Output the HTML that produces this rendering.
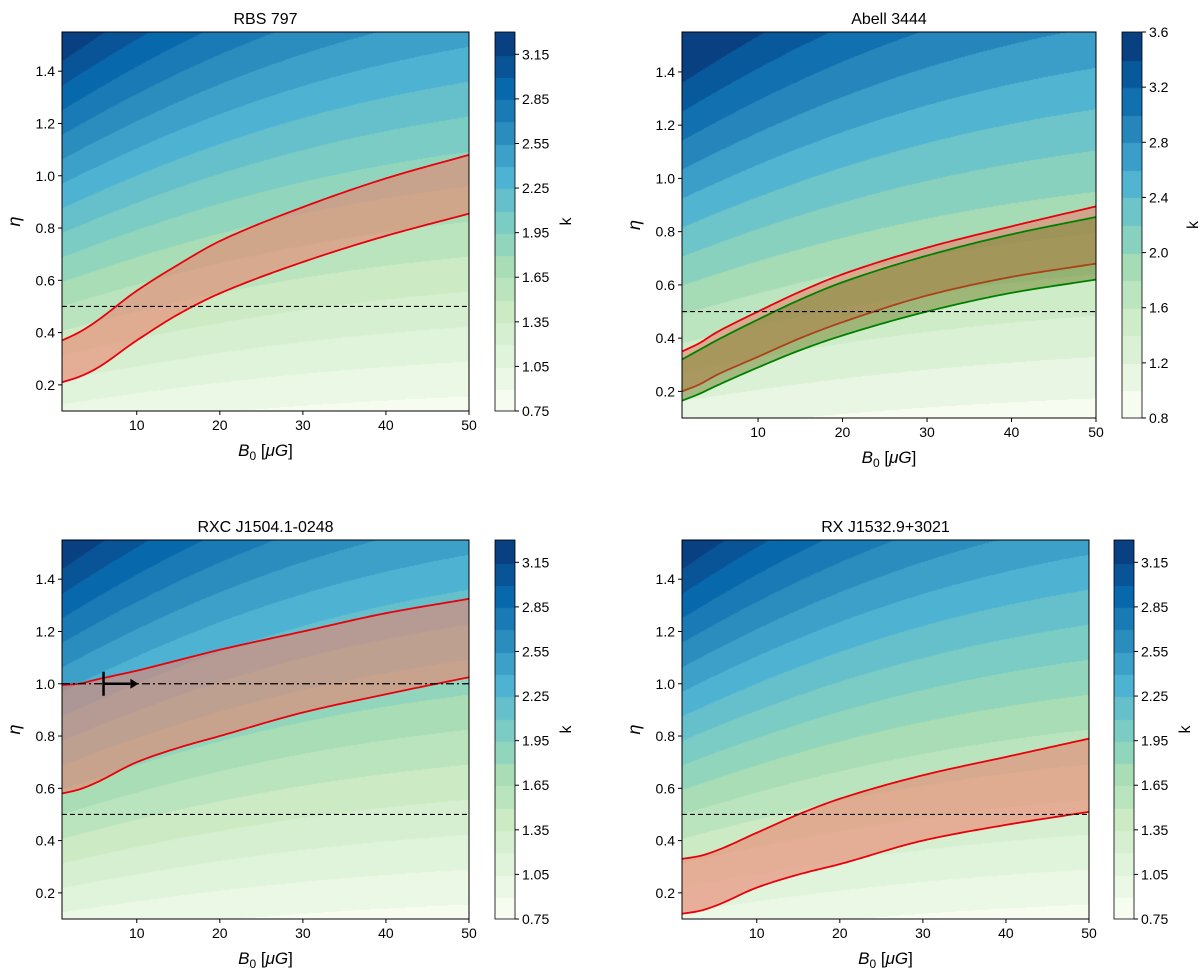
<!DOCTYPE html>
<html><head><meta charset="utf-8"><style>
body{margin:0;background:#fff;width:1200px;height:979px;position:relative;overflow:hidden;font-family:"Liberation Sans",sans-serif}
canvas{position:absolute}
svg{position:absolute;left:0;top:0}
text{font-family:"Liberation Sans","DejaVu Sans",sans-serif;fill:#000}
</style></head><body>
<svg id="s" width="1200" height="979"></svg>
<script>
const bGrid=[1,3,5,10,15,20,30,40,50];
const p1Upper=[0.37,0.40,0.44,0.56,0.66,0.75,0.88,0.99,1.08];
const p1Lower=[0.21,0.23,0.26,0.37,0.47,0.55,0.67,0.77,0.855];
const p2RedUpper=[0.35,0.38,0.42,0.50,0.575,0.64,0.74,0.82,0.895];
const p2RedLower=[0.20,0.225,0.26,0.33,0.40,0.46,0.56,0.63,0.68];
const p2GreenUpper=[0.32,0.355,0.39,0.47,0.545,0.61,0.71,0.79,0.855];
const p2GreenLower=[0.165,0.19,0.22,0.29,0.355,0.41,0.50,0.57,0.62];
const p3Upper=[0.995,1.0,1.015,1.05,1.09,1.13,1.2,1.27,1.325];
const p3Lower=[0.58,0.595,0.62,0.70,0.755,0.80,0.89,0.96,1.025];
const p4Upper=[0.33,0.34,0.36,0.43,0.50,0.56,0.65,0.72,0.79];
const p4Lower=[0.12,0.13,0.15,0.22,0.27,0.31,0.40,0.46,0.51];
const titles=["RBS 797","Abell 3444","RXC J1504.1-0248","RX J1532.9+3021"];
const cbTicksA=[0.75,1.05,1.35,1.65,1.95,2.25,2.55,2.85,3.15];
const cbTicksB=[0.8,1.2,1.6,2.0,2.4,2.8,3.2,3.6];
const xTicks=[10,20,30,40,50];
const yTicks=[0.2,0.4,0.6,0.8,1.0,1.2,1.4];

const gnbu=[[247,252,240],[224,243,219],[204,235,197],[168,221,181],[123,204,196],[78,179,211],[43,140,190],[8,104,172],[8,64,129]];
function cmap(t){t=Math.max(0,Math.min(1,t));const f=t*8,i=Math.min(7,Math.floor(f)),r=f-i;return gnbu[i].map((c,j)=>Math.round(c+(gnbu[i+1][j]-c)*r));}
const panels=[
 {x0:62,x1:469,y0:32,y1:411,cb:495,cbw:20,kmin:0.75,kmax:3.3,step:0.15,ticks:cbTicksA,sc:1,bands:[[p1Upper,p1Lower,'rgba(235,130,110,0.6)','#e8000b']]},
 {x0:682,x1:1096,y0:32,y1:418,cb:1122,cbw:20,kmin:0.8,kmax:3.6,step:0.2,ticks:cbTicksB,sc:1.15,bands:[[p2RedUpper,p2RedLower,'rgba(235,130,110,0.6)','#e8000b'],[p2GreenUpper,p2GreenLower,'rgba(110,130,40,0.5)','#008000']]},
 {x0:62,x1:469,y0:540,y1:919,cb:495,cbw:20,kmin:0.75,kmax:3.3,step:0.15,ticks:cbTicksA,sc:1,bands:[[p3Upper,p3Lower,'rgba(235,130,110,0.6)','#e8000b']],arrow:true},
 {x0:682,x1:1089,y0:540,y1:919,cb:1114,cbw:20,kmin:0.75,kmax:3.3,step:0.15,ticks:cbTicksA,sc:1,bands:[[p4Upper,p4Lower,'rgba(235,130,110,0.6)','#e8000b']]}
];
const S=document.getElementById('s');const NS='http://www.w3.org/2000/svg';
function el(t,a,p){const e=document.createElementNS(NS,t);for(const k in a)e.setAttribute(k,a[k]);(p||S).appendChild(e);return e;}
function interp(xs,ys,x){const n=xs.length,d=[],m=[];for(let i=0;i<n-1;i++)d.push((ys[i+1]-ys[i])/(xs[i+1]-xs[i]));
 m[0]=d[0];m[n-1]=d[n-2];for(let i=1;i<n-1;i++)m[i]=(d[i-1]*d[i]<=0)?0:2/(1/d[i-1]+1/d[i]);
 let i=0;while(i<n-2&&x>xs[i+1])i++;const h=xs[i+1]-xs[i],t=(x-xs[i])/h;
 const h00=2*t*t*t-3*t*t+1,h10=t*t*t-2*t*t+t,h01=-2*t*t*t+3*t*t,h11=t*t*t-t*t;
 return h00*ys[i]+h10*h*m[i]+h01*ys[i+1]+h11*h*m[i+1];}
panels.forEach((P,pi)=>{
 const W=P.x1-P.x0,H=P.y1-P.y0;
 const sx=b=>P.x0+(b-1)/49*W, sy=e=>P.y1-(e-0.1)/1.45*H;
 const nl=Math.round((P.kmax-P.kmin)/P.step);
 const lvl=k=>{let i=Math.floor((k-P.kmin)/P.step);return Math.max(0,Math.min(nl-1,i));};
 const col=i=>cmap(i/(nl-1));
 const cv=document.createElement('canvas');cv.width=W;cv.height=H;cv.style.left=P.x0+'px';cv.style.top=P.y0+'px';
 
 
 document.body.insertBefore(cv,S);
 const ctx=cv.getContext('2d'),img=ctx.createImageData(W,H);
 for(let y=0;y<H;y++){const eta=1.55-(y+0.5)/H*1.45;for(let x=0;x<W;x++){const B=1+(x+0.5)/W*49;
  const ex=Math.exp(-(B-1)/28);const k=(P.kmin-0.05+0.15*ex)+eta*(1.02+0.58*ex)*P.sc;
  const c=col(lvl(k));const o=(y*W+x)*4;img.data[o]=c[0];img.data[o+1]=c[1];img.data[o+2]=c[2];img.data[o+3]=255;}}
 ctx.putImageData(img,0,0);
 const cc=document.createElement('canvas');cc.width=P.cbw;cc.height=H;cc.style.left=P.cb+'px';cc.style.top=P.y0+'px';
 
 
 document.body.insertBefore(cc,S);
 const c2=cc.getContext('2d');
 for(let i=0;i<nl;i++){const c=col(i);c2.fillStyle=`rgb(${c})`;const ya=H-(i+1)/nl*H;c2.fillRect(0,Math.floor(ya),P.cbw,Math.ceil(H/nl)+1);}
 el('rect',{x:P.cb,y:P.y0,width:P.cbw,height:H,fill:'none',stroke:'#000','stroke-width':0.8});
 P.ticks.forEach(t=>{const y=P.y1-(t-P.kmin)/(P.kmax-P.kmin)*H;el('line',{x1:P.cb+P.cbw,x2:P.cb+P.cbw+4,y1:y,y2:y,stroke:'#000'});const tx=el('text',{x:P.cb+P.cbw+7,y:y+5,'font-size':14});tx.textContent=t.toFixed(P.step<0.2?2:1);});
 const kl=el('text',{x:P.cb+P.cbw+56,y:(P.y0+P.y1)/2,'font-size':16,'text-anchor':'middle',transform:`rotate(-90 ${P.cb+P.cbw+56} ${(P.y0+P.y1)/2})`});kl.textContent='k';
 
 const xs=[];for(let b=1;b<=50;b+=0.5)xs.push(b);
 P.bands.forEach(([U,L,fill,stroke],bi)=>{
  const up=xs.map(b=>[sx(b),sy(interp(bGrid,U,b))]),lo=xs.map(b=>[sx(b),sy(interp(bGrid,L,b))]);
  const g=el('g',{});
  el('path',{d:'M'+up.map(p=>p.join(',')).join('L')+'L'+lo.slice().reverse().map(p=>p.join(',')).join('L')+'Z',fill:fill},g);
  el('path',{d:'M'+up.map(p=>p.join(',')).join('L'),fill:'none',stroke:stroke,'stroke-width':1.8},g);
  el('path',{d:'M'+lo.map(p=>p.join(',')).join('L'),fill:'none',stroke:stroke,'stroke-width':1.8},g);
 });
 const dl=el('line',{x1:P.x0,x2:P.x1,y1:sy(0.5),y2:sy(0.5),stroke:'#000','stroke-width':1.1,'stroke-dasharray':'5,3'});
 if(P.arrow){
  el('line',{x1:P.x0,x2:P.x1,y1:sy(1),y2:sy(1),stroke:'#000','stroke-width':1.2,'stroke-dasharray':'8,3,2,3'});
  el('line',{x1:sx(6),x2:sx(6),y1:sy(1)-12,y2:sy(1)+12,stroke:'#000','stroke-width':2.5});
  el('line',{x1:sx(6),x2:sx(9.2),y1:sy(1),y2:sy(1),stroke:'#000','stroke-width':2.5});
  el('path',{d:`M${sx(10.2)},${sy(1)}l-8,-5l0,10z`,fill:'#000'});
 }
 el('rect',{x:P.x0,y:P.y0,width:W,height:H,fill:'none',stroke:'#000','stroke-width':1});
 xTicks.forEach(t=>{const x=sx(t);el('line',{x1:x,x2:x,y1:P.y1,y2:P.y1+4,stroke:'#000'});const tx=el('text',{x:x,y:P.y1+19,'font-size':14,'text-anchor':'middle'});tx.textContent=t;});
 yTicks.forEach(t=>{const y=sy(t);el('line',{x1:P.x0-4,x2:P.x0,y1:y,y2:y,stroke:'#000'});const tx=el('text',{x:P.x0-7,y:y+5,'font-size':14,'text-anchor':'end'});tx.textContent=t.toFixed(1);});
 const xl=el('text',{x:(P.x0+P.x1)/2,y:P.y1+45,'font-size':17,'text-anchor':'middle'});xl.innerHTML='<tspan font-style="italic">B</tspan><tspan font-size="12" dy="4">0</tspan><tspan dy="-4"> [</tspan><tspan font-style="italic">μG</tspan>]';
 
 const yl=el('text',{x:P.x0-42,y:(P.y0+P.y1)/2,'font-size':18,'font-style':'italic','text-anchor':'middle',transform:`rotate(-90 ${P.x0-42} ${(P.y0+P.y1)/2})`});yl.textContent='η';
 
 const tt=el('text',{x:(P.x0+P.x1)/2,y:P.y0-8,'font-size':16,'text-anchor':'middle'});tt.textContent=titles[pi];
 
});
</script>
</body></html>
